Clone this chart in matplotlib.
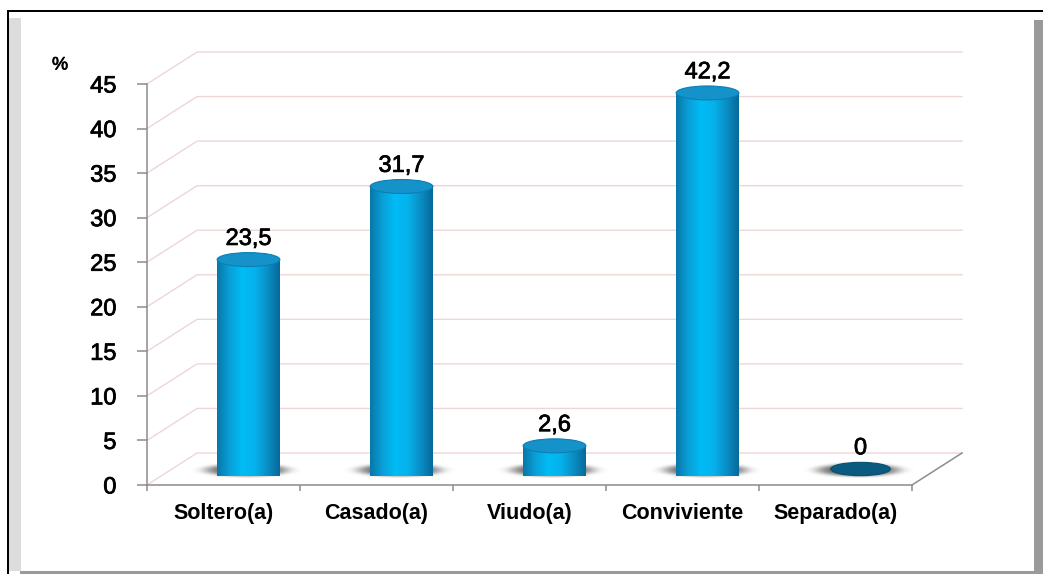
import numpy as np
import matplotlib
matplotlib.use('Agg')
from matplotlib import pyplot as plt
from matplotlib import patheffects as pe
from matplotlib.patches import Polygon, Ellipse, Rectangle
from matplotlib.colors import LinearSegmentedColormap

# Data
categories = ['Soltero(a)', 'Casado(a)', 'Viudo(a)', 'Conviviente', 'Separado(a)']
values = [23.5, 31.7, 2.6, 42.2, 0]
y_ticks = [0, 5, 10, 15, 20, 25, 30, 35, 40, 45]

plt.rcParams['font.family'] = ['Liberation Sans', 'DejaVu Sans']

fig = plt.figure(figsize=(10.43, 5.74), dpi=100)

# Frame round the chart (white box, black edge, grey shadow)
W, H = 1043.0, 574.0
def fr(x, y, w, h, **kw):
    fig.patches.append(Rectangle((x / W, 1 - (y + h) / H), w / W, h / H,
                                 transform=fig.transFigure, **kw))
fr(9, 18, 12, 553, facecolor='#dcdcdc', edgecolor='none')
fr(1034, 20, 9, 554, facecolor='#9a9a9a', edgecolor='none')
fr(20, 571, 1014, 3, facecolor='#9a9a9a', edgecolor='none')
fr(7, 10, 1036, 2, facecolor='black', edgecolor='none')
fr(7, 10, 2, 564, facecolor='black', edgecolor='none')

# Front plane of the 3D plot
ax = fig.add_axes([147 / W, 1 - 485 / H, (912 - 147) / W, (485 - 84) / H])
ax.set_facecolor('none')
ax.set_xlim(0, 5)
ax.set_ylim(0, 45)

DX, DY = 0.327, 3.59    # depth offset of the back wall
grid_c = '#efd6d6'
axis_c = '#8c8c8c'
heavy = [pe.withStroke(linewidth=0.55, foreground='black')]

# side and back wall gridlines
for v in y_ticks:
    ax.plot([0, DX, 5 + DX], [v, v + DY, v + DY], color=grid_c, lw=1.0,
            clip_on=False, zorder=1)
# right edge of the floor
ax.plot([5, 5 + DX], [0, DY], color=axis_c, lw=1.1, clip_on=False, zorder=1)

cmap = LinearSegmentedColormap.from_list(
    'cyl', ['#0877a8', '#0aa0d8', '#00bcf5', '#06b2ec', '#0a8fc5', '#07699b'])
grad = np.linspace(0, 1, 200).reshape(1, -1)

bw = 0.41      # bar width
eh = 1.57      # ellipse height
y0 = DY / 2

for i, (cat, v) in enumerate(zip(categories, values)):
    xc = i + 0.5 + DX / 2
    xl, xr = xc - bw / 2, xc + bw / 2

    # soft grey shadow on the floor
    sx = np.linspace(-1, 1, 120)
    sy = np.linspace(-1, 1, 40)
    SX, SY = np.meshgrid(sx, sy)
    a = np.exp(-(SX ** 2 / 0.55 + SY ** 2 / 0.35) ** 2.5)
    shadow = np.zeros((40, 120, 4))
    shadow[..., :3] = 0.38
    shadow[..., 3] = a
    ax.imshow(shadow, extent=[xl - 0.17, xr + 0.14, y0 - 1.4, y0 + 1.0],
              aspect='auto', zorder=2, clip_on=False, interpolation='bilinear')

    if v > 0:
        t = np.linspace(0, np.pi, 60)
        pts = [(xl, y0 + v), (xl, y0)]
        pts += list(zip(xc - bw / 2 * np.cos(t), y0 - eh / 2 * np.sin(t)))
        pts += [(xr, y0 + v)]
        body = Polygon(pts, closed=True, facecolor='none', edgecolor='none',
                       transform=ax.transData)
        ax.add_patch(body)
        im = ax.imshow(grad, cmap=cmap, extent=[xl, xr, y0 - eh / 2, y0 + v],
                       aspect='auto', zorder=3, clip_on=False)
        im.set_clip_path(body)
        ax.add_patch(Ellipse((xc, y0 + v), bw, eh, facecolor='#1592ca',
                             edgecolor='#0b7fb3', lw=0.8, zorder=4, clip_on=False))
        label = f'{v:.1f}'.replace('.', ',')
    else:
        ax.add_patch(Ellipse((xc, y0), bw * 0.95, eh * 0.95, facecolor='#0b5a80',
                             edgecolor='#0a4f70', lw=0.8, zorder=4, clip_on=False))
        label = '0'
    ax.text(xc, y0 + v + eh / 2 + 0.3, label, ha='center', va='bottom',
            fontsize=17, color='black', zorder=5, path_effects=heavy)

ax.set_xlim(0, 5)
ax.set_ylim(0, 45)

for s in ['top', 'right']:
    ax.spines[s].set_visible(False)
for s in ['left', 'bottom']:
    ax.spines[s].set_color(axis_c)
    ax.spines[s].set_linewidth(1.1)
    ax.spines[s].set_zorder(1)

ax.set_yticks(y_ticks)
ax.set_yticklabels([str(v) for v in y_ticks])
ax.tick_params(axis='y', length=7, width=1.1, color=axis_c, pad=15,
               labelsize=17)
for lbl in ax.get_yticklabels():
    lbl.set_path_effects(heavy)
ax.set_xticks(range(6))
ax.set_xticklabels([])
ax.set_xticks([i + 0.5 for i in range(5)], minor=True)
ax.set_xticklabels(categories, minor=True, fontweight='bold', fontsize=15.5)
ax.tick_params(axis='x', which='major', length=4, width=1.1, color=axis_c)
ax.tick_params(axis='x', which='minor', length=0, pad=13)

fig.text(60 / W, 1 - 65 / H, '%', ha='center', va='center', fontsize=13,
         path_effects=[pe.withStroke(linewidth=0.5, foreground='black')])

fig.savefig('out.png', dpi=100)
